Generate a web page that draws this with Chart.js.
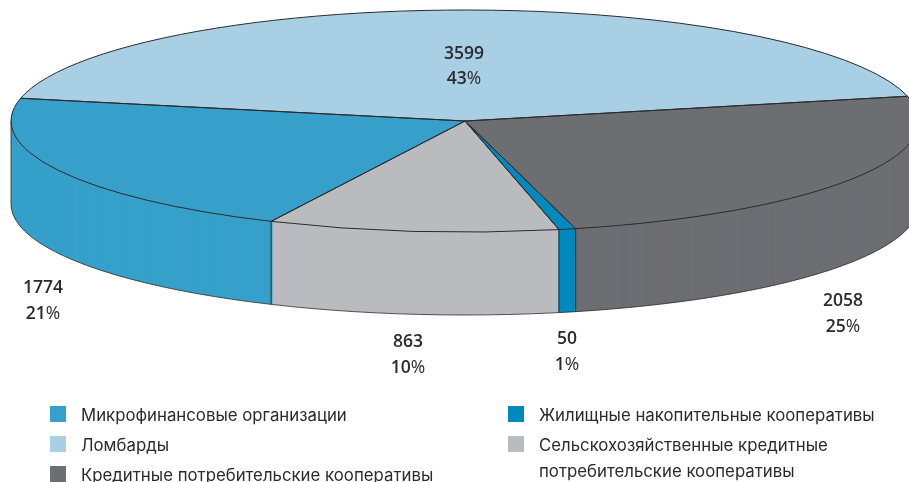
<!DOCTYPE html>
<html lang="ru">
<head>
<meta charset="utf-8">
<title>Pie</title>
<script src="https://cdn.jsdelivr.net/npm/chart.js@4"></script>
<style>
  html, body { margin: 0; padding: 0; background: #fff; overflow: hidden; }
  canvas { display: block; }
</style>
</head>
<body>
<canvas id="pieChart" width="909" height="482"></canvas>
<script>
// slices, clockwise from the right edge of the disc
const categories = [
  "Кредитные потребительские кооперативы",
  "Жилищные накопительные кооперативы",
  "Сельскохозяйственные кредитные потребительские кооперативы",
  "Микрофинансовые организации",
  "Ломбарды",
];
const values = [2058, 50, 863, 1774, 3599];
const percents = ["25", "1", "10", "21", "43"];
const colors = ["#6d6e72", "#0089bd", "#babbbf", "#36a0ca", "#a9cfe5"];

// disc geometry on the page
const disc = { cx: 465, cy: 121, rx: 454, ry: 111, depth: 83 };
const outline = "#2b2a2e";
const textColor = "#2b2a2e";

// value / percent baselines, same order as values
const labelPos = [
  { x: 843, y1: 306, y2: 332 },
  { x: 567, y1: 344, y2: 370 },
  { x: 408, y1: 347, y2: 373 },
  { x: 43, y1: 293, y2: 319 },
  { x: 464, y1: 59, y2: 84 },
];

// legend rows: slice index, square position, text lines
const legendRows = [
  { i: 3, x: 50, y: 406, lines: ["Микрофинансовые организации"] },
  { i: 4, x: 50, y: 436, lines: ["Ломбарды"] },
  { i: 0, x: 50, y: 466, lines: ["Кредитные потребительские кооперативы"] },
  { i: 1, x: 508, y: 406, lines: ["Жилищные накопительные кооперативы"] },
  { i: 2, x: 508, y: 436, lines: ["Сельскохозяйственные кредитные", "потребительские кооперативы"] },
];

const valueFont = "600 17.5px 'Open Sans'";
const pctFont = "400 17.5px 'Open Sans'";
const legendFont = "400 16.8px Inter";

// squash the round pie into the disc ellipse
function applyDisc(ctx, arc, dy) {
  ctx.translate(disc.cx, disc.cy + dy);
  ctx.scale(1, disc.ry / disc.rx);
  ctx.translate(-arc.x, -arc.y);
}

const disc3d = {
  id: "disc3d",
  beforeDatasetDraw(chart, args) {
    const ctx = chart.ctx;
    const arcs = args.meta.data;
    // side wall: the same arcs repeated downwards
    for (let d = disc.depth; d > 0; d--) {
      arcs.forEach((arc) => {
        ctx.save();
        applyDisc(ctx, arc, d);
        arc.draw(ctx);
        ctx.restore();
      });
    }
    ctx.save();
    applyDisc(ctx, arcs[0], 0);
  },
  afterDatasetDraw(chart, args) {
    const ctx = chart.ctx;
    ctx.restore();

    // outlines are stroked unscaled, otherwise the line gets squashed too
    ctx.save();
    ctx.strokeStyle = outline;
    ctx.lineWidth = 1;
    ctx.lineJoin = "round";
    args.meta.data.forEach((arc) => {
      ctx.beginPath();
      ctx.moveTo(disc.cx, disc.cy);
      ctx.ellipse(disc.cx, disc.cy, disc.rx, disc.ry, 0, arc.startAngle, arc.endAngle);
      ctx.closePath();
      ctx.stroke();

      // wall edge, only for the front half
      const sin = Math.sin(arc.endAngle);
      if (sin > 0) {
        const x = disc.cx + disc.rx * Math.cos(arc.endAngle);
        const y = disc.cy + disc.ry * sin;
        ctx.beginPath();
        ctx.moveTo(x, y);
        ctx.lineTo(x, y + disc.depth);
        ctx.stroke();
      }
    });
    ctx.lineWidth = 0.8;
    ctx.beginPath();
    ctx.moveTo(disc.cx + disc.rx, disc.cy);
    ctx.lineTo(disc.cx + disc.rx, disc.cy + disc.depth);
    ctx.ellipse(disc.cx, disc.cy + disc.depth, disc.rx, disc.ry, 0, 0, Math.PI);
    ctx.lineTo(disc.cx - disc.rx, disc.cy);
    ctx.stroke();
    ctx.restore();
  },
  afterDraw(chart) {
    const ctx = chart.ctx;
    ctx.save();
    ctx.fillStyle = textColor;
    ctx.textBaseline = "alphabetic";

    // value and percent labels
    values.forEach((v, i) => {
      const p = labelPos[i];
      ctx.font = valueFont;
      ctx.textAlign = "center";
      ctx.fillText(String(v), p.x, p.y1);

      const num = percents[i];
      const numW = ctx.measureText(num).width;
      ctx.font = pctFont;
      const signW = ctx.measureText("%").width;
      const left = p.x - (numW + signW) / 2;
      ctx.textAlign = "left";
      ctx.fillText("%", left + numW, p.y2);
      ctx.font = valueFont;
      ctx.fillText(num, left, p.y2);
    });

    // legend
    ctx.font = legendFont;
    ctx.textAlign = "left";
    legendRows.forEach((row) => {
      ctx.fillStyle = colors[row.i];
      ctx.fillRect(row.x, row.y, 16, 16);
      ctx.fillStyle = textColor;
      row.lines.forEach((line, n) => {
        ctx.fillText(line, row.x + 31, row.y + 15 + n * 26);
      });
    });
    ctx.restore();
  },
};

new Chart(document.getElementById("pieChart"), {
  type: "pie",
  data: {
    labels: categories,
    datasets: [
      {
        data: values,
        backgroundColor: colors,
        borderWidth: 0,
        clip: false,
      },
    ],
  },
  options: {
    responsive: false,
    animation: false,
    radius: disc.rx,
    rotation: 77.1,
    layout: { padding: 0 },
    plugins: {
      legend: { display: false },
      tooltip: { enabled: false },
    },
  },
  plugins: [disc3d],
});
</script>
</body>
</html>
